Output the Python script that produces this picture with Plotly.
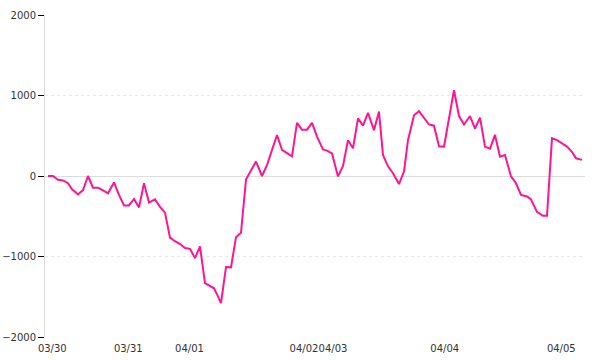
import plotly.graph_objects as go

# x positions (sample index along the trading timeline) and values
t = [0, 1, 2, 3, 4, 4.8, 5.4, 6, 7, 8, 9, 10, 11, 12, 13.2, 14.2, 15.2, 16.2, 17.2, 18.2,
     19.2, 20.2, 21.4, 22.4, 23.4, 24.4, 25.4, 26.4, 27.4, 28.4, 29.4, 30.4, 31.4, 32.4,
     33.2, 34, 34.6, 35.6, 36.6, 37.6, 38.6, 39.6, 41.6, 42.8, 43.8, 45.8, 46.8, 47.8,
     48.8, 49.8, 50.8, 51.8, 52.8, 53.8, 55, 55.8, 56.8, 58, 59, 60, 61, 62, 63, 64,
     65.2, 66.2, 67, 68, 69, 70.2, 71.2, 72, 73.2, 74.2, 75.2, 76.2, 77.2, 78.2, 79.2,
     80.2, 81.2, 82.2, 83.2, 84.4, 85.4, 86.4, 87.4, 88.4, 89.4, 90.4, 91.4, 92.6, 93.6,
     94.6, 95.8, 96.6, 97.8, 99, 99.8, 100.8, 101.8, 102.8, 103.8, 104.8, 105.6, 106.8]

values = [0, 0, -47, -55, -90, -165, -195, -230, -175, 0, -145, -145, -180, -215, -80,
          -235, -365, -365, -285, -390, -90, -330, -290, -385, -455, -765, -810, -845,
          -895, -905, -1020, -875, -1330, -1370, -1395, -1495, -1580, -1130, -1135, -760,
          -705, -45, 180, 0, 135, 510, 325, 285, 245, 660, 575, 575, 660, 490, 330, 315,
          280, -5, 125, 445, 345, 715, 625, 785, 570, 800, 260, 120, 35, -100, 55, 445,
          755, 805, 715, 640, 625, 370, 365, 720, 1065, 745, 640, 745, 590, 725, 365, 340,
          510, 240, 260, -5, -90, -235, -255, -290, -445, -495, -495, 470, 445, 405, 365,
          300, 220, 200]

tick_pos = [0.86, 16.06, 28.3, 51.2, 57, 79.34, 102.66]
tick_text = ["03/30", "03/31", "04/01", "04/02", "04/03", "04/04", "04/05"]
y_ticks = [-2000, -1000, 0, 1000, 2000]

fig = go.Figure(go.Scatter(
    x=t, y=values, mode="lines",
    line=dict(color="#ff1493", width=2),
    hoverinfo="skip",
))

fig.update_layout(
    width=600, height=360,
    margin=dict(l=45, r=15, t=15, b=23),
    paper_bgcolor="white", plot_bgcolor="white",
    showlegend=False,
    font=dict(family="DejaVu Sans", size=10, color="#333"),
)
fig.update_xaxes(
    range=[-0.6, 107.4],
    tickmode="array", tickvals=tick_pos, ticktext=tick_text,
    showgrid=False, zeroline=False, showline=False, ticks="",
    tickangle=0, automargin=False, ticklabelstandoff=4,
)
fig.update_yaxes(
    range=[-2000, 2000],
    tickmode="array", tickvals=y_ticks,
    showgrid=True, gridcolor="#e8e8e8", griddash="dot", gridwidth=1,
    zeroline=True, zerolinecolor="#dddddd", zerolinewidth=1,
    showline=True, linecolor="#dddddd", linewidth=1,
    ticks="outside", ticklen=6, tickcolor="#000", tickwidth=1,
    automargin=False,
)

fig.write_html("out.html")
